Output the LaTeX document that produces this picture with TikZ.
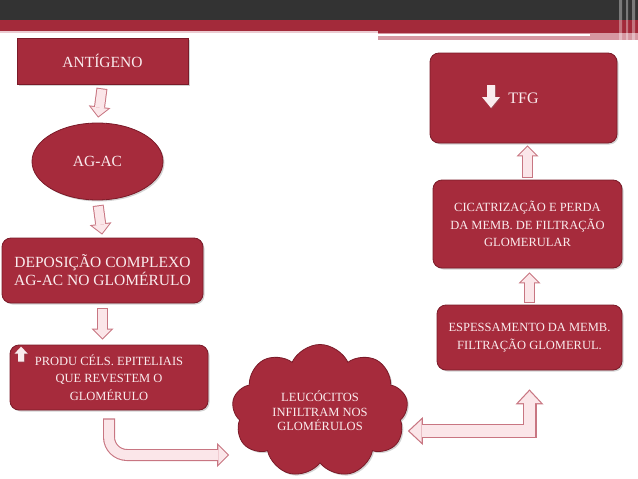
\documentclass[tikz,border=0pt]{standalone}
\usepackage{fontspec}
\setmainfont{Liberation Serif}
\usetikzlibrary{positioning,calc,shapes.geometric,shapes.symbols,arrows.meta,shadows}

\definecolor{boxred}{RGB}{166,43,60}
\definecolor{boxedge}{RGB}{122,26,40}
\definecolor{boxtext}{RGB}{250,236,238}
\definecolor{arrowedge}{RGB}{200,118,130}
\definecolor{arrowfill}{RGB}{251,230,233}
\definecolor{bardark}{RGB}{51,51,51}
\definecolor{barred}{RGB}{163,42,58}
\definecolor{barpink}{RGB}{214,152,162}

\tikzset{
  redbox/.style={draw=boxedge, line width=0.8pt, fill=boxred, text=boxtext,
    align=center, inner sep=0pt,
    drop shadow={opacity=0.35, shadow xshift=1.5pt, shadow yshift=-1.5pt}},
  roundbox/.style={redbox, rounded corners=9pt},
  bigtext/.style={font=\fontsize{15.5}{18}\selectfont},
  smalltext/.style={font=\fontsize{12.5}{17.5}\selectfont},
  % fat block arrow: outline pass, then fill pass
  fatarrow/.style 2 args={draw=arrowedge, line width=11pt,
    -{Triangle[width=22pt,length=11pt,line width=0pt]},
    shorten <=#1, shorten >=#2,
    postaction={draw=arrowfill, line width=9pt,
      -{Triangle[width=17.2pt,length=8.6pt,line width=0pt]},
      shorten <=#1+1pt, shorten >=#2+1.41pt}},
  bentarrow/.style 2 args={draw=arrowedge, line width=12pt, rounded corners=18pt,
    -{Triangle[width=24pt,length=12pt,line width=0pt]},
    shorten <=#1, shorten >=#2,
    postaction={draw=arrowfill, line width=9.8pt,
      -{Triangle[width=18.6pt,length=9.3pt,line width=0pt]},
      shorten <=#1+1.1pt, shorten >=#2+1.55pt}},
  widearrow/.style={draw=arrowedge, line width=14pt, line join=miter,
    {Triangle[width=28pt,length=15pt,line width=0pt]}-{Triangle[width=28pt,length=15pt,line width=0pt]},
    shorten <=19pt,
    postaction={draw=arrowfill, line width=11.6pt,
      {Triangle[width=22.5pt,length=12pt,line width=0pt]}-{Triangle[width=22.5pt,length=12pt,line width=0pt]},
      shorten <=20.8pt, shorten >=1.8pt}},
  iconarrow/.style={fill=boxtext, drop shadow={opacity=0.3, shadow xshift=0.8pt, shadow yshift=-0.8pt}},
}

\begin{document}
\begin{tikzpicture}[x=1pt, y=-1pt]
  \useasboundingbox (0,0) rectangle (638,479);

  % header bars
  \fill[bardark] (0,0) rectangle (638,20);
  \fill[barred] (0,20) rectangle (638,31);
  \fill[barpink!50] (0,31) rectangle (378,33);
  \fill[barred] (378,31) rectangle (638,33);
  \fill[barpink] (378,33) rectangle (638,40);
  \fill[white] (378,33.5) rectangle (590,35.5);
  \fill[white, opacity=0.35] (619,0) rectangle (622,40)
                              (626,0) rectangle (628,40)
                              (632,0) rectangle (635,40);

  % left column
  \node[redbox, bigtext, minimum width=171pt, minimum height=46pt]
    (antigeno) at (102.5,61) {ANTÍGENO};
  \node[redbox, bigtext, ellipse, minimum width=131pt, minimum height=77pt]
    (agac) at (97.5,161.5) {AG-AC};
  \node[roundbox, bigtext, minimum width=201pt, minimum height=65pt]
    (deposicao) at (102.5,270.5) {DEPOSIÇÃO COMPLEXO\\AG-AC NO GLOMÉRULO};
  \node[roundbox, smalltext, minimum width=198pt, minimum height=65pt]
    (produ) at (109,377.5) {PRODU CÉLS. EPITELIAIS\\QUE REVESTEM O\\GLOMÉRULO};

  % cloud
  \node[redbox, cloud, cloud puffs=9, cloud puff arc=130, cloud ignores aspect,
    minimum width=176pt, minimum height=133pt,
    font=\fontsize{12.5}{14.5}\selectfont]
    (leuco) at (320,411) {LEUCÓCITOS\\INFILTRAM NOS\\GLOMÉRULOS};

  % right column
  \node[roundbox, font=\fontsize{16}{18}\selectfont, minimum width=187pt, minimum height=90pt]
    (tfg) at (523.5,98) {TFG};
  \node[roundbox, smalltext, minimum width=189pt, minimum height=88pt]
    (cicatriz) at (527.5,224) {CICATRIZAÇÃO E PERDA\\DA MEMB. DE FILTRAÇÃO\\GLOMERULAR};
  \node[roundbox, smalltext, minimum width=185pt, minimum height=65pt]
    (espess) at (529.5,337.5) {ESPESSAMENTO DA MEMB.\\FILTRAÇÃO GLOMERUL.};

  % small icons
  \begin{scope}[shift={(produ.north west)}]
    \fill[iconarrow] (11.5,2) -- (18,9) -- (14.5,9) -- (14.5,17) -- (8.5,17) -- (8.5,9) -- (5,9) -- cycle;
  \end{scope}
  \begin{scope}[shift={(tfg.center)}]
    \fill[iconarrow] (-36.5,-13) -- (-28.5,-13) -- (-28.5,-1) -- (-23.5,-1) -- (-32.5,10) -- (-41.5,-1) -- (-36.5,-1) -- cycle;
  \end{scope}

  \coordinate (leucoin) at ($(leuco.west)+(-4,44)$);
  \coordinate (leucoout) at ($(leuco.east)+(1,20)$);

  % block arrows
  \draw[fatarrow={4pt}{5pt}] (antigeno.south) -- (agac.north);
  \draw[fatarrow={5pt}{3pt}] (agac.south) -- (deposicao.north);
  \draw[fatarrow={5pt}{5pt}] (deposicao.south) -- (deposicao.south |- produ.north);
  \draw[bentarrow={8pt}{0pt}] (produ.south) |- (leucoin);
  \draw[widearrow] (espess.south) -- (espess.south |- leucoout) -- (leucoout);
  \draw[fatarrow={2pt}{4pt}] (espess.north) -- (espess.north |- cicatriz.south);
  \draw[fatarrow={2pt}{2pt}] (cicatriz.north) -- (cicatriz.north |- tfg.south);
\end{tikzpicture}
\end{document}
